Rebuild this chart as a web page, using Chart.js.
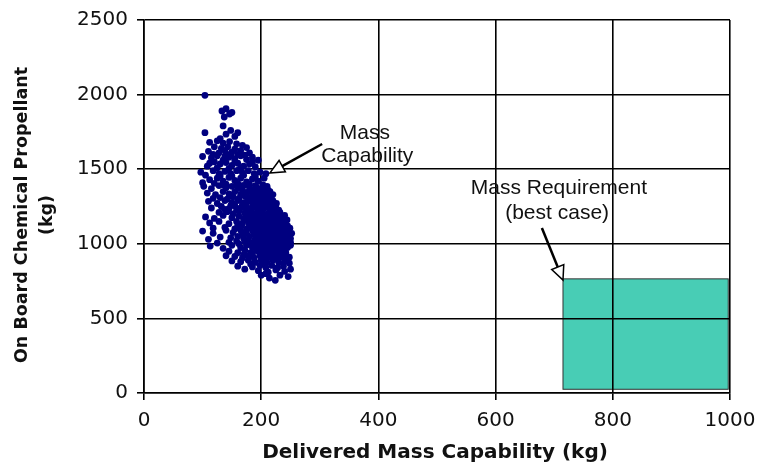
<!DOCTYPE html>
<html>
<head>
<meta charset="utf-8">
<script src="https://cdn.jsdelivr.net/npm/chart.js@4.4.1/dist/chart.umd.min.js"></script>
<style>
  html, body { margin: 0; padding: 0; background: #fff; }
  #wrap { width: 758px; height: 467px; position: relative; }
</style>
</head>
<body>
<div id="wrap"><canvas id="chart"></canvas></div>
<script>
// Delivered mass vs. on-board chemical propellant, one pair per trajectory case (kg)
const capabilitySamples = [
  [104,1995],[133,1890],[140,1905],[146,1870],[137,1850],[150,1880],
  [104,1745],[135,1790],[148,1760],[140,1735],[155,1720],[130,1705],[160,1745],
  [112,1680],[125,1690],[135,1675],[146,1685],[158,1670],[168,1660],[120,1650],[132,1640],[143,1650],[155,1635],
  [165,1625],[175,1645],[110,1620],[128,1610],[140,1605],[150,1615],[160,1600],[180,1610],[138,1625],[118,1600],
  [100,1585],[115,1575],[125,1590],[135,1560],[145,1580],[155,1570],[165,1590],[175,1565],[185,1580],[120,1550],
  [130,1535],[140,1545],[150,1525],[160,1540],[170,1520],[180,1535],[190,1515],[108,1520],[125,1510],[145,1505],
  [165,1505],[155,1555],[138,1585],[172,1595],[185,1545],[195,1560],[112,1540],[148,1595],
  [97,1480],[105,1460],[118,1490],[128,1470],[138,1485],[148,1470],[158,1490],[168,1475],[178,1490],[188,1470],
  [198,1480],[112,1430],[125,1440],[135,1420],[145,1445],[155,1425],[165,1440],[175,1415],[185,1435],[195,1420],
  [205,1440],[100,1410],[120,1405],[140,1400],[160,1405],[180,1400],[150,1455],[170,1460],[190,1450],[130,1455],
  [208,1470],[162,1495],
  [102,1385],[115,1370],[128,1390],[140,1375],[150,1385],[160,1370],[170,1390],[180,1375],[190,1390],[200,1370],
  [210,1385],[108,1340],[122,1330],[135,1350],[145,1335],[155,1350],[165,1330],[175,1345],[185,1330],[195,1350],
  [205,1335],[215,1350],[118,1305],[130,1310],[142,1300],[152,1315],[162,1305],[172,1320],[182,1305],[192,1315],
  [202,1300],[212,1315],[168,1360],[188,1360],[198,1325],[178,1310],[158,1395],[148,1320],[220,1330],[135,1395],
  [110,1285],[125,1270],[138,1290],[150,1275],[160,1290],[170,1275],[180,1290],[190,1270],[200,1285],[210,1275],
  [220,1290],[115,1240],[132,1250],[145,1235],[155,1255],[165,1240],[175,1255],[185,1240],[195,1255],[205,1240],
  [215,1255],[225,1240],[128,1210],[142,1215],[152,1200],[162,1220],[172,1205],[182,1220],[192,1205],[202,1220],
  [212,1205],[222,1215],[230,1225],[168,1265],[188,1250],[198,1230],[208,1262],[178,1230],[158,1225],[218,1230],
  [196,1290],[148,1255],[186,1280],[226,1270],[138,1230],
  [105,1180],[120,1170],[135,1190],[150,1175],[162,1185],[172,1170],[182,1190],[192,1175],[202,1190],[212,1170],
  [222,1185],[232,1175],[240,1190],[112,1140],[128,1150],[145,1135],[158,1150],[168,1135],[178,1150],[188,1135],
  [198,1150],[208,1135],[218,1150],[228,1135],[238,1150],[118,1105],[138,1110],[155,1100],[165,1115],[175,1100],
  [185,1115],[195,1100],[205,1115],[215,1100],[225,1115],[235,1105],[245,1120],[170,1160],[190,1160],[210,1155],
  [230,1160],[180,1125],[200,1125],[220,1125],[240,1130],[160,1125],[196,1195],[216,1195],[186,1105],[226,1170],
  [100,1085],[118,1070],[140,1090],[152,1075],[165,1090],[175,1070],[185,1090],[195,1075],[205,1090],[215,1070],
  [225,1090],[235,1075],[245,1090],[252,1070],[110,1030],[130,1045],[148,1040],[160,1050],[170,1035],[180,1050],
  [190,1035],[200,1050],[210,1035],[220,1050],[230,1035],[240,1050],[250,1035],[125,1005],[145,1010],[162,1000],
  [172,1015],[182,1000],[192,1015],[202,1000],[212,1015],[222,1000],[232,1015],[242,1005],[250,1010],[188,1065],
  [208,1062],[228,1060],[198,1025],[218,1025],[238,1025],[178,1025],[168,1065],[196,1098],[236,1095],[158,1020],
  [246,1060],[214,1095],
  [113,985],[135,970],[150,990],[165,975],[175,990],[185,975],[195,990],[205,975],[215,990],[225,975],
  [235,990],[245,975],[250,990],[145,950],[160,940],[172,955],[182,940],[192,955],[202,940],[212,955],
  [222,940],[232,955],[242,940],[155,915],[168,905],[178,920],[188,905],[198,920],[208,905],[218,920],
  [228,905],[238,920],[248,910],[195,960],[215,960],[235,965],[185,930],[205,930],[225,930],[210,995],
  [170,925],[140,920],
  [150,885],[165,880],[178,890],[190,875],[200,890],[210,875],[220,890],[230,875],[240,885],[248,870],
  [160,850],[185,845],[198,855],[208,840],[218,855],[228,840],[238,850],[172,830],[195,820],[212,810],
  [225,825],[240,815],[250,830],[205,865],[182,865],
  [200,790],[214,770],[224,755],[232,790],[246,780],[208,800],
  [168,1390],[178,1395],[192,1380],[203,1395],[212,1360],[182,1355],[173,1335],[193,1340],[203,1355],[213,1325],
  [187,1320],[197,1305],[207,1320],[217,1305],[176,1285],[186,1262],[196,1270],[206,1285],[216,1265],[224,1255],
  [172,1245],[182,1232],[192,1242],[202,1252],[212,1245],[222,1225],[232,1210],[177,1212],[187,1195],[197,1212],
  [207,1195],[217,1210],[227,1195],[237,1180],[174,1182],[184,1168],[194,1182],[204,1165],[214,1180],[224,1162],
  [234,1145],[244,1160],[179,1140],[189,1145],[199,1132],[209,1145],[219,1132],[229,1145],[239,1118],[249,1105],
  [183,1110],[193,1120],[203,1105],[213,1120],[223,1105],[233,1120],[243,1080],[187,1080],[197,1085],[207,1070],
  [217,1082],[227,1072],[237,1062],[247,1045],[193,1042],[203,1040],[213,1045],[223,1040],[233,1048],[243,1032],
  [185,1010],[195,1005],[205,1010],[215,1008],[225,1010],[235,1000],[245,995],[190,980],[200,968],[210,980],
  [220,968],[230,980],[240,960],[197,940],[207,948],[217,935],[227,948],[237,930],[213,912],[223,898],[233,912],[243,895]
];

// Best-case requirement region (delivered mass range, propellant range), kg
const requirementMassKg = [715, 997];
const requirementPropellantKg = [25, 765];

// Axis ranges and tick values
const massTicks = [0, 200, 400, 600, 800, 1000];
const propellantTicks = [0, 500, 1000, 1500, 2000, 2500];

// Callout labels, anchored in data units
const callouts = [
  { lines: ['Mass', 'Capability'], textX: [377, 381], textY: [1702, 1548], tail: [304, 1669], tip: [215, 1475] },
  { lines: ['Mass Requirement', '(best case)'], textX: [708, 705], textY: [1334, 1166], tail: [679, 1106], tip: [715, 757] }
];

const TEXT = '#111';

// Fills the background and draws the requirement box underneath the grid
const underlayPlugin = {
  id: 'underlay',
  beforeDraw(chart) {
    const { ctx, scales: { x, y } } = chart;
    ctx.save();
    ctx.fillStyle = '#fff';
    ctx.fillRect(0, 0, chart.width, chart.height);
    const x0 = x.getPixelForValue(requirementMassKg[0]);
    const x1 = x.getPixelForValue(requirementMassKg[1]);
    const y0 = y.getPixelForValue(requirementPropellantKg[1]);
    const y1 = y.getPixelForValue(requirementPropellantKg[0]);
    ctx.fillStyle = '#48cdb5';
    ctx.fillRect(x0, y0, x1 - x0, y1 - y0);
    ctx.strokeStyle = '#333';
    ctx.lineWidth = 1;
    ctx.strokeRect(x0, y0, x1 - x0, y1 - y0);
    ctx.restore();
  }
};

function drawArrow(ctx, fx, fy, tx, ty) {
  const ang = Math.atan2(ty - fy, tx - fx);
  const len = 14, half = 6.5;
  const bx = tx - Math.cos(ang) * len, by = ty - Math.sin(ang) * len;
  ctx.beginPath();
  ctx.moveTo(fx, fy);
  ctx.lineTo(bx, by);
  ctx.lineWidth = 2.5;
  ctx.strokeStyle = '#000';
  ctx.stroke();
  ctx.beginPath();
  ctx.moveTo(tx, ty);
  ctx.lineTo(bx + Math.sin(ang) * half, by - Math.cos(ang) * half);
  ctx.lineTo(bx - Math.sin(ang) * half, by + Math.cos(ang) * half);
  ctx.closePath();
  ctx.fillStyle = '#fff';
  ctx.fill();
  ctx.lineWidth = 1.5;
  ctx.stroke();
}

// Axis titles and callouts
const overlayPlugin = {
  id: 'overlay',
  afterDraw(chart) {
    const { ctx, scales: { x, y } } = chart;
    ctx.save();
    ctx.fillStyle = TEXT;
    ctx.textAlign = 'center';
    ctx.textBaseline = 'middle';
    ctx.font = 'bold 20px "DejaVu Sans"';
    ctx.fillText('Delivered Mass Capability (kg)', 435, 453);
    ctx.font = 'bold 17.5px "DejaVu Sans"';
    ctx.save();
    ctx.translate(22, 215);
    ctx.rotate(-Math.PI / 2);
    ctx.fillText('On Board Chemical Propellant', 0, 0);
    ctx.restore();
    ctx.save();
    ctx.translate(47, 215);
    ctx.rotate(-Math.PI / 2);
    ctx.fillText('(kg)', 0, 0);
    ctx.restore();

    ctx.font = '21px "Liberation Sans"';
    ctx.textBaseline = 'alphabetic';
    callouts.forEach(c => {
      c.lines.forEach((t, i) => {
        ctx.fillStyle = TEXT;
        ctx.fillText(t, x.getPixelForValue(c.textX[i]), y.getPixelForValue(c.textY[i]));
      });
      drawArrow(ctx,
        x.getPixelForValue(c.tail[0]), y.getPixelForValue(c.tail[1]),
        x.getPixelForValue(c.tip[0]), y.getPixelForValue(c.tip[1]));
    });
    ctx.restore();
  }
};

const tickFont = { family: '"DejaVu Sans"', size: 20 };
const plainLabel = v => String(v);
const noOverflow = s => { s.paddingLeft = 0; s.paddingRight = 0; s.paddingTop = 0; s.paddingBottom = 0; };

new Chart(document.getElementById('chart'), {
  type: 'scatter',
  data: {
    datasets: [{
      label: 'Mass Capability',
      data: capabilitySamples.map(([m, p]) => ({ x: m, y: p })),
      pointStyle: 'circle',
      pointRadius: 3.4,
      pointHoverRadius: 3.4,
      backgroundColor: '#000080',
      borderColor: '#000080',
      borderWidth: 0
    }]
  },
  options: {
    responsive: true,
    maintainAspectRatio: false,
    animation: false,
    devicePixelRatio: 1,
    layout: { padding: { left: 0, right: 28, top: 20, bottom: 0 } },
    plugins: { legend: { display: false }, tooltip: { enabled: false } },
    scales: {
      x: {
        type: 'linear',
        min: massTicks[0],
        max: massTicks[massTicks.length - 1],
        afterBuildTicks: s => { s.ticks = massTicks.map(v => ({ value: v })); },
        afterFit: s => { s.height = 74; noOverflow(s); },
        ticks: { font: tickFont, color: TEXT, padding: 9, maxRotation: 0, callback: plainLabel },
        grid: { color: '#000', lineWidth: 1.6, tickLength: 7 },
        border: { display: true, color: '#000', width: 1.6 }
      },
      y: {
        type: 'linear',
        min: propellantTicks[0],
        max: propellantTicks[propellantTicks.length - 1],
        afterBuildTicks: s => { s.ticks = propellantTicks.map(v => ({ value: v })); },
        afterFit: s => { s.width = 144; noOverflow(s); },
        ticks: { font: tickFont, color: TEXT, padding: 9, callback: plainLabel },
        grid: { color: '#000', lineWidth: 1.6, tickLength: 7 },
        border: { display: true, color: '#000', width: 1.6 }
      }
    }
  },
  plugins: [underlayPlugin, overlayPlugin]
});
</script>
</body>
</html>
